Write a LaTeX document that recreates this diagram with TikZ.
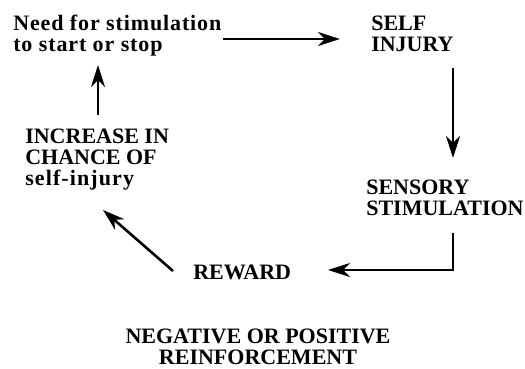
\documentclass[tikz,border=0pt]{standalone}
\usepackage{fontspec}
\setmainfont{Liberation Serif}
\usetikzlibrary{arrows.meta}

\newcommand{\widelow}[1]{{\addfontfeatures{LetterSpace=4}#1}}

\begin{document}
\begin{tikzpicture}[x=1pt, y=-1pt, line width=2.6pt,
    lbl/.style={inner sep=0pt, align=left, anchor=north west,
      font=\bfseries\fontsize{22}{21}\selectfont},
    arr/.style={-{Stealth[length=22pt, width=14pt, inset=7pt]}}]
    \useasboundingbox (0, 0) rectangle (525, 369);
    \node[lbl] (need) at (12, 14) {\widelow{Need for stimulation}\\\widelow{to start or stop}};
    \node[lbl] (self) at (370, 15) {SELF\\INJURY};
    \node[lbl] (sens) at (365, 179) {SENSORY\\STIMULATION};
    \node[lbl] (rew) at (192, 264) {REWARD};
    \node[lbl] (inc) at (24, 128) {INCREASE IN\\CHANCE OF\\{\addfontfeatures{LetterSpace=5}self-injury}};
    \node[lbl, align=center, anchor=north] (neg) at (258, 328) {NEGATIVE OR POSITIVE\\REINFORCEMENT};
    \coordinate (a1) at (223, 39);
    \coordinate (a2) at (340, 39);
    \coordinate (b1) at (453, 68);
    \coordinate (b2) at (453, 158);
    \coordinate (c1) at (453, 233);
    \coordinate (c2) at (453, 270);
    \coordinate (c3) at (328, 270);
    \coordinate (d1) at (173, 271);
    \coordinate (d2) at (103, 210);
    \coordinate (e1) at (98, 115);
    \coordinate (e2) at (98, 65);
    \draw [arr] (a1) to (a2);
    \draw [arr] (b1) to (b2);
    \draw [arr] (c1)--(c2)--(c3);
    \draw [arr] (d1) to (d2);
    \draw [arr] (e1) to (e2);
\end{tikzpicture}
\end{document}
